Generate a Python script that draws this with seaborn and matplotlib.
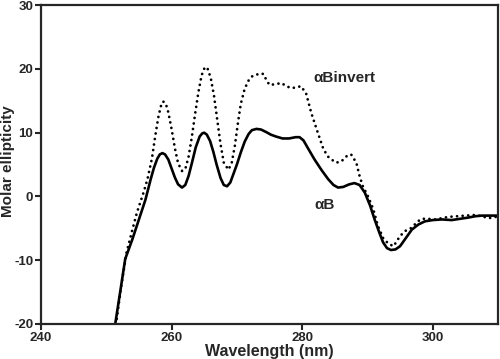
import numpy as np
import pandas as pd
import matplotlib
matplotlib.use("Agg")
import matplotlib.pyplot as plt
import seaborn as sns

# 1. 数据
wl_ab = [251.4, 252.2, 252.9, 254.0, 255.0, 256.0, 256.8, 257.3, 257.8, 258.2,
         258.6, 259.0, 259.5, 260.0, 260.5, 261.0, 261.6, 262.1, 262.6, 263.1,
         263.7, 264.3, 264.7, 265.0, 265.4, 265.9, 266.4, 266.9, 267.5, 268.0,
         268.5, 269.0, 269.5, 270.0, 270.6, 271.2, 271.8, 272.3, 273.0, 273.7,
         274.5, 275.2, 276.0, 277.0, 278.0, 279.0, 279.6, 280.2, 281.1, 281.9,
         283.0, 284.0, 284.8, 285.5, 286.3, 287.2, 288.0, 288.8, 289.6, 290.4,
         291.1, 291.8, 292.4, 293.0, 293.6, 294.3, 295.0, 295.9, 296.8, 297.8,
         298.8, 300.0, 301.4, 302.9, 304.2, 305.5, 306.5, 307.5, 308.8, 310.0]
cd_ab = [-19.8, -14.5, -9.8, -6.7, -3.6, -0.5, 2.7, 4.5, 5.9, 6.6,
         6.8, 6.6, 5.8, 4.4, 3.0, 1.9, 1.4, 1.8, 3.2, 5.2,
         7.7, 9.4, 9.9, 10.0, 9.7, 8.7, 7.0, 5.0, 2.9, 1.8,
         1.6, 2.2, 3.6, 5.0, 6.9, 8.6, 9.8, 10.4, 10.6, 10.5,
         10.1, 9.7, 9.4, 9.1, 9.1, 9.3, 9.3, 8.8, 7.2, 5.8,
         4.1, 2.7, 1.8, 1.4, 1.5, 1.9, 2.1, 1.8, 0.6, -1.4,
         -3.6, -5.6, -7.2, -8.1, -8.4, -8.3, -7.8, -6.5, -5.2, -4.4,
         -3.9, -3.7, -3.6, -3.7, -3.5, -3.3, -3.1, -3.0, -3.0, -3.0]

wl_inv = [251.6, 252.3, 253.1, 254.0, 254.7, 255.7, 256.3, 257.0, 257.5, 258.0,
          258.4, 258.7, 259.1, 259.5, 260.0, 260.5, 261.0, 261.6, 262.1, 262.6,
          263.1, 263.6, 264.1, 264.6, 265.1, 265.5, 266.0, 266.5, 267.0, 267.5,
          268.0, 268.7, 269.2, 269.7, 270.2, 270.6, 271.2, 271.8, 272.4, 273.0,
          273.6, 274.1, 274.5, 275.0, 275.9, 276.8, 277.6, 278.3, 279.1, 279.8,
          280.6, 281.4, 282.4, 283.2, 283.9, 284.5, 285.2, 286.0, 286.8, 287.5,
          288.3, 288.8, 289.3, 290.1, 290.9, 291.6, 292.4, 293.2, 294.0, 295.0,
          295.8, 296.8, 297.6, 298.3, 299.3, 300.4, 301.4, 302.4, 303.7, 305.0,
          306.5, 307.5, 308.6, 309.6, 310.0]
cd_inv = [-19.2, -14.0, -8.8, -5.2, -2.5, 0.6, 2.7, 6.0, 9.5, 12.6,
          14.3, 14.9, 14.6, 13.2, 10.6, 7.6, 5.2, 4.0, 4.3, 6.2,
          9.3, 12.9, 16.3, 19.0, 20.3, 20.1, 18.6, 15.8, 12.0, 8.2,
          5.3, 4.2, 5.2, 8.0, 11.8, 14.5, 16.9, 18.2, 18.9, 19.1,
          19.3, 19.2, 18.3, 17.5, 17.6, 17.8, 17.3, 17.0, 17.1, 17.3,
          16.2, 13.1, 10.0, 7.6, 6.3, 5.8, 5.3, 5.5, 6.3, 6.6,
          5.3, 3.2, 1.6, 0.0, -2.0, -4.6, -6.5, -7.4, -7.8, -6.2,
          -5.4, -4.9, -4.0, -3.5, -3.5, -3.6, -3.4, -3.2, -3.1, -3.0,
          -2.9, -3.1, -3.4, -3.2, -3.3]

x_ticks = [240, 260, 280, 300]
y_ticks = [-20, -10, 0, 10, 20, 30]

df_ab = pd.DataFrame({"wl": wl_ab, "cd": cd_ab})
df_inv = pd.DataFrame({"wl": wl_inv, "cd": cd_inv})

# 2. 样式
sns.set_style("ticks")
plt.rcParams["font.family"] = ["Liberation Sans", "DejaVu Sans"]
plt.rcParams["font.weight"] = "bold"
plt.rcParams["axes.unicode_minus"] = False

fig = plt.figure(figsize=(5.0, 3.59), dpi=100)
ax = fig.add_axes([0.082, 0.0975, 0.914, 0.888])

sns.lineplot(data=df_ab, x="wl", y="cd", ax=ax, color="black", lw=1.9,
             sort=False, estimator=None)
line_inv = sns.lineplot(data=df_inv, x="wl", y="cd", ax=ax, color="black", lw=2.0,
                        sort=False, estimator=None).lines[-1]
line_inv.set_dashes((0.01, 2.0))
line_inv.set_dash_capstyle("round")

ax.set_xlim(240, 310)
ax.set_ylim(-20, 30)
ax.set_xticks(x_ticks)
ax.set_yticks(y_ticks)
ax.tick_params(direction="out", length=4, width=1.5, labelsize=9.5, pad=1.5)
for lab in ax.get_xticklabels() + ax.get_yticklabels():
    lab.set_fontweight("bold")
for sp in ax.spines.values():
    sp.set_visible(True)
    sp.set_linewidth(1.6)

ax.set_xlabel("Wavelength (nm)", fontsize=11.5, fontweight="bold", labelpad=0)
ax.set_ylabel("Molar ellipticity", fontsize=11, fontweight="bold")
ax.yaxis.set_label_coords(-0.057, 0.51)

ax.text(281.7, 18.6, "αBinvert", fontsize=11, fontweight="bold", va="center", ha="left")
ax.text(281.8, -1.3, "αB", fontsize=11, fontweight="bold", va="center", ha="left")

fig.savefig("out.png", dpi=100)
